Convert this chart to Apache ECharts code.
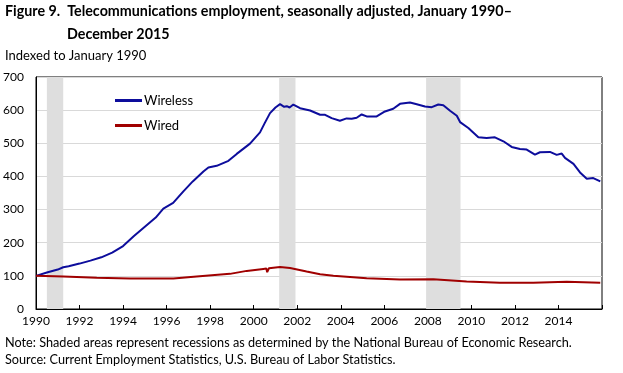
<!DOCTYPE html>
<html><head><meta charset="utf-8">
<script src="https://cdn.jsdelivr.net/npm/echarts@6/dist/echarts.min.js"></script>
<style>html,body{margin:0;padding:0;background:#fff}#c{width:623px;height:373px}</style>
</head><body><div id="c"></div>
<script>
const FONT = 'Lato';
const wirelessDates = [1990.0,1990.5,1991.0,1991.25,1991.5,1992.0,1992.5,1993.0,1993.5,1994.0,1994.5,1995.0,1995.5,1995.85,1996.3,1996.77,1997.2,1997.69,1997.92,1998.3,1998.84,1999.22,1999.83,2000.29,2000.5,2000.75,2001.0,2001.21,2001.4,2001.52,2001.65,2001.82,2002.13,2002.59,2003.05,2003.28,2003.58,2003.96,2004.27,2004.5,2004.73,2004.96,2005.19,2005.65,2006.03,2006.41,2006.72,2007.18,2007.49,2007.87,2008.18,2008.48,2008.71,2009.02,2009.33,2009.48,2009.86,2010.32,2010.7,2011.08,2011.47,2011.85,2012.23,2012.54,2012.92,2013.15,2013.61,2013.92,2014.15,2014.3,2014.69,2014.99,2015.3,2015.6,2015.92];
const wirelessValues = [100,110,119,126,129,137,146,156,170,190,220,248,276,303,320,355,385,415,427,432,447,468,499,533,560,591,608,618,610,612,608,617,606,599,586,586,576,568,575,574,577,587,581,581,596,604,619,623,618,611,609,617,615,598,583,564,546,518,516,518,506,489,483,481,466,473,474,465,469,456,438,412,393,395,385];
const wiredDates = [1990.0,1991.25,1992.79,1994.32,1996.31,1997.38,1998.91,1999.68,2000.44,2000.58,2000.62,2000.7,2001.21,2001.67,2002.43,2003.05,2003.66,2005.19,2006.72,2008.25,2009.78,2011.31,2011.55,2011.62,2011.7,2012.84,2014.38,2015.92];
const wiredValues = [100,98,94,92,92,98,106,115,121,122,111,123,127,124,113,105,100,93,89,90,83,79,79,74,79,79,82,79];
const recessions = [[1990.5,1991.25],[2001.17,2001.92],[2007.92,2009.5]];
const yTicks = [0,100,200,300,400,500,600,700];

const chart = echarts.init(document.getElementById('c'));
const ts = (size, bold) => ({fontFamily:FONT,fontWeight:bold?'bold':'normal',fontSize:size,color:'#000'});
chart.setOption({
  animation:false,
  textStyle:{fontFamily:FONT},
  title:[
    {text:'Figure 9.  Telecommunications employment, seasonally adjusted, January 1990–',left:5,top:4,padding:0,textStyle:ts(14.3,true)},
    {text:'December 2015',left:67,top:27,padding:0,textStyle:ts(14.3,true)},
    {text:'Indexed to January 1990',left:5,top:49,padding:0,textStyle:ts(13,false)},
    {text:'Note: Shaded areas represent recessions as determined by the National Bureau of Economic Research.',left:5,top:336,padding:0,textStyle:ts(12.7,false)},
    {text:'Source: Current Employment Statistics, U.S. Bureau of Labor Statistics.',left:5,top:353,padding:0,textStyle:ts(12.7,false)}
  ],
  legend:{orient:'vertical',left:115,top:94,padding:0,itemWidth:27,itemHeight:3,itemGap:12,icon:'rect',
    textStyle:{fontFamily:FONT,fontSize:13,color:'#000',padding:[0,0,0,-3]},
    data:['Wireless','Wired']},
  grid:{left:36,right:21,top:77,bottom:64,show:true,borderColor:'#000',borderWidth:1,containLabel:false},
  xAxis:{type:'value',min:1990,max:2016,interval:2,
    axisLine:{show:true,lineStyle:{color:'#000'}},
    axisTick:{show:true,inside:true,length:4,lineStyle:{color:'#000'}},
    splitLine:{show:false},
    axisLabel:{color:'#000',fontSize:12,fontFamily:FONT,margin:6,formatter:v=>v>=2016?'':String(v)}},
  yAxis:{type:'value',min:yTicks[0],max:yTicks[yTicks.length-1],interval:100,
    axisLine:{show:true,lineStyle:{color:'#000'}},
    axisTick:{show:false},
    splitLine:{show:true,lineStyle:{color:'#d9d9d9',width:1}},
    axisLabel:{color:'#000',fontSize:12,fontFamily:FONT,margin:12}},
  series:[
    {name:'Wireless',type:'line',showSymbol:false,symbol:'none',z:3,
      lineStyle:{color:'#0d0d9c',width:2},itemStyle:{color:'#0d0d9c'},
      data:wirelessDates.map((d,i)=>[d,wirelessValues[i]]),
      markArea:{silent:true,itemStyle:{color:'#dedede'},data:recessions.map(r=>[{xAxis:r[0]},{xAxis:r[1]}])}},
    {name:'Wired',type:'line',showSymbol:false,symbol:'none',z:3,
      lineStyle:{color:'#a00000',width:2},itemStyle:{color:'#a00000'},
      data:wiredDates.map((d,i)=>[d,wiredValues[i]])}
  ]
});
</script></body></html>
